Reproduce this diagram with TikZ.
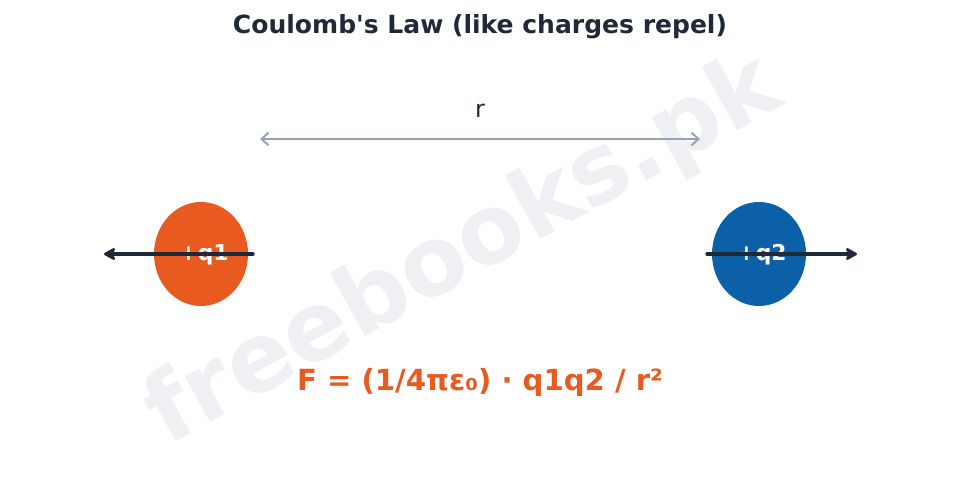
\documentclass[tikz,border=0pt]{standalone}
\usepackage{fontspec}
\setmainfont{DejaVu Sans}[Ligatures=TeXOff]
\usetikzlibrary{arrows.meta}
\definecolor{inkdark}{HTML}{1F2937}
\definecolor{rgray}{HTML}{94A3B8}
\definecolor{chargeorange}{HTML}{E95A21}
\definecolor{chargeblue}{HTML}{0B60A8}
\definecolor{wmark}{HTML}{EEF0F3}

\begin{document}
\begin{tikzpicture}[x=0.025cm,y=-0.025cm,
	charge/.style={inner sep=0pt,anchor=base,text=white,font=\bfseries\fontsize{15.5}{18}\selectfont},
	force/.style={draw=inkdark,line width=2.3pt,line cap=round,-{Stealth[length=10pt,width=11pt,inset=3pt,round]}},
	sep/.style={draw=rgray,line width=1.4pt,{Straight Barb[length=5pt,width=9pt]}-{Straight Barb[length=5pt,width=9pt]}}]
				%%%%% START %%%%%
				\def\ylaw{254}
				\def\xone{201}
				\def\xtwo{759}
				\def\rx{47}
				\def\ry{52}
				
				\useasboundingbox (0,0) rectangle (959,477);
				
				% watermark
				\node[rotate=29,text=wmark,font=\bfseries\fontsize{68}{72}\selectfont] (wm) at (464,252) {freebooks.pk};
				
				\node[text=inkdark,font=\bfseries\fontsize{17.8}{21}\selectfont] (title) at (480,27) {Coulomb's Law (like charges repel)};
				
				% charges
				\fill[chargeorange] (\xone,\ylaw) ellipse ({\rx} and {\ry});
				\fill[chargeblue] (\xtwo,\ylaw) ellipse ({\rx} and {\ry});
				\node[charge] (q1) at (\xone+3,\ylaw+7) {+q1};
				\node[charge] (q2) at (\xtwo+3,\ylaw+7) {+q2};
				
				% forces
				\coordinate (q1in) at (253,\ylaw);
				\coordinate (q1out) at (104,\ylaw);
				\coordinate (q2in) at (707,\ylaw);
				\coordinate (q2out) at (857,\ylaw);
				\draw[force] (q1in) -- (q1out);
				\draw[force] (q2in) -- (q2out);
				
				% separation
				\coordinate (rl) at (260,139);
				\coordinate (rr) at (700,139);
				\draw[sep] (rl) -- (rr);
				\node[text=inkdark,font=\fontsize{17}{20}\selectfont] (rlab) at (480,111) {r};
				
				\node[text=chargeorange,font=\bfseries\fontsize{20.7}{24}\selectfont] (law) at (480,382) {F = (1/4πε₀) · q1q2 / r²};
				%%%%% END %%%%%
\end{tikzpicture}
\end{document}
